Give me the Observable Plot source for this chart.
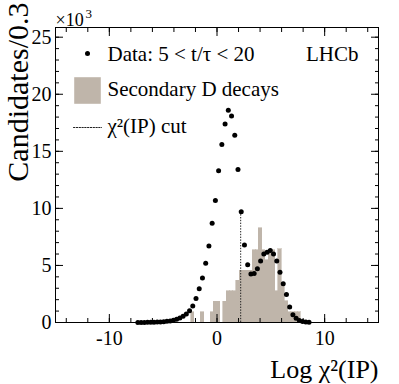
<!DOCTYPE html>
<html>
<head>
<meta charset="utf-8">
<script src="https://cdn.jsdelivr.net/npm/d3@7"></script>
<script src="https://cdn.jsdelivr.net/npm/@observablehq/plot@0.6"></script>
<style>
  html, body { margin: 0; padding: 0; background: #fff; }
</style>
</head>
<body>
<div id="chart"></div>
<script>
// ---- data (values in units of 10^3 candidates per 0.3) ----
const dataX = [-7.35, -7.05, -6.75, -6.45, -6.15, -5.85, -5.55, -5.25, -4.95, -4.65,
               -4.35, -4.05, -3.75, -3.45, -3.15, -2.85, -2.55, -2.25, -1.95, -1.65,
               -1.35, -1.05, -0.75, -0.45, -0.15, 0.15, 0.45, 0.75, 1.05, 1.35,
               1.65, 1.95, 2.25, 2.55, 2.85, 3.15, 3.45, 3.75, 4.05, 4.35,
               4.65, 4.95, 5.25, 5.55, 5.85, 6.15, 6.45, 6.75, 7.05, 7.35,
               7.65, 7.95, 8.25, 8.55];
const dataY = [0.01, 0.01, 0.01, 0.015, 0.02, 0.025, 0.035, 0.05, 0.07, 0.1,
               0.14, 0.2, 0.28, 0.4, 0.55, 0.75, 1.02, 1.45, 2.1, 2.95,
               3.9, 5.2, 6.7, 8.7, 10.7, 13.3, 15.6, 17.4, 18.6, 18.1,
               16.4, 13.4, 9.7, 6.8, 5.05, 4.25, 4.3, 4.7, 5.4, 6.0,
               6.15, 6.3, 6.0, 5.4, 4.4, 3.4, 2.45, 1.35, 0.67, 0.38,
               0.18, 0.09, 0.04, 0.02];

const mcX = [-2.25, -1.35, -0.45, -0.15, 0.15, 0.75, 1.05, 1.35, 1.65, 1.95,
             2.25, 2.55, 2.85, 3.15, 3.45, 3.75, 4.05, 4.35, 4.65, 4.95,
             5.25, 5.55, 5.85, 6.15, 6.45, 6.75, 7.05, 7.35, 7.65];
const mcY = [0.9, 0.9, 0.9, 1.82, 1.82, 1.82, 2.73, 2.73, 2.73, 3.64,
             4.55, 4.55, 4.55, 4.55, 6.35, 6.35, 8.25, 6.35, 5.45, 6.35,
             6.35, 2.73, 6.4, 3.5, 1.85, 0.9, 0.9, 0.9, 0.9];
const binWidth = 0.3;
const cutX = 2.2;
const cutRefBin = 2.25;

const xMajorTicks = [-10, 0, 10];
const xMinorTicks = [-14, -12, -10, -8, -6, -4, -2, 0, 2, 4, 6, 8, 10, 12, 14];
const yMajorTicks = [0, 5, 10, 15, 20, 25];
const yMinorTicks = [0,1,2,3,4,5,6,7,8,9,10,11,12,13,14,15,16,17,18,19,20,21,22,23,24,25];

const xTitle = "Log χ²(IP)";
const yTitle = "Candidates/0.3";
const yExpBase = "×10";
const yExpPower = "3";
const experimentLabel = "LHCb";
const legendLabels = ["Data: 5 < t/τ < 20", "Secondary D decays", "χ²(IP) cut"];

// ---- build tables ----
const points = dataX.map((x, i) => ({x, y: dataY[i]}));
const mc = mcX.map((c, i) => ({x1: c - binWidth / 2, x2: c + binWidth / 2, v: mcY[i]}));
const cutTop = dataY[dataX.indexOf(cutRefBin)];

const serif = "'Liberation Serif', 'Times New Roman', Times, serif";
const histColor = "#bfb5aa";
const noText = {fill: "none", label: null};

const lineShape = {draw(context, l) { context.moveTo(0, 0); context.lineTo(0, -l); }};

const chart = Plot.plot({
  width: 399,
  height: 384,
  marginLeft: 55,
  marginRight: 21,
  marginTop: 27,
  marginBottom: 62,
  style: {fontFamily: serif, background: "white", color: "black", overflow: "visible"},
  x: {domain: [-15, 15], axis: null},
  y: {domain: [0, 25.85], axis: null},
  marks: [
    Plot.rect(mc, {x1: "x1", x2: "x2", y1: 0, y2: "v", fill: histColor, stroke: histColor,
      strokeWidth: 0.6, inset: 0, shapeRendering: "crispEdges"}),
    Plot.ruleX([cutX], {y1: 0, y2: cutTop, stroke: "#222", strokeWidth: 1, strokeDasharray: "1.4,1.4"}),
    Plot.dot(points, {x: "x", y: "y", r: 2.5, fill: "black", stroke: "none"}),
    Plot.frame({stroke: "black", strokeWidth: 1}),

    // bottom axis
    Plot.axisX(xMajorTicks, {anchor: "bottom", tickSize: -8, ...noText}),
    Plot.axisX(xMinorTicks, {anchor: "bottom", tickSize: -4, ...noText}),
    Plot.axisX(xMajorTicks, {anchor: "bottom", tickSize: 0, tickPadding: 8, fontSize: 20,
      tickFormat: d => String(d), label: null}),
    // top axis
    Plot.axisX(xMajorTicks, {anchor: "top", tickSize: -8, ...noText}),
    Plot.axisX(xMinorTicks, {anchor: "top", tickSize: -4, ...noText}),
    // left axis
    Plot.axisY(yMajorTicks, {anchor: "left", tickSize: -8, ...noText}),
    Plot.axisY(yMinorTicks, {anchor: "left", tickSize: -4, ...noText}),
    Plot.axisY(yMajorTicks, {anchor: "left", tickSize: 0, tickPadding: 4, fontSize: 20,
      tickFormat: d => String(d), label: null}),
    // right axis
    Plot.axisY(yMajorTicks, {anchor: "right", tickSize: -8, ...noText}),
    Plot.axisY(yMinorTicks, {anchor: "right", tickSize: -4, ...noText}),

    // titles
    Plot.text([yTitle], {frameAnchor: "top-left", text: d => d, rotate: -90, textAnchor: "end",
      lineAnchor: "bottom", dx: -28, dy: -25, fontSize: 30, fill: "black"}),
    Plot.text([xTitle], {frameAnchor: "bottom-right", text: d => d, textAnchor: "end",
      lineAnchor: "bottom", dx: 0, dy: 55, fontSize: 26, fill: "black"}),
    Plot.text([yExpBase], {frameAnchor: "top-left", text: d => d, textAnchor: "start",
      lineAnchor: "bottom", dx: 0, dy: -2, fontSize: 18, fill: "black"}),
    Plot.text([yExpPower], {frameAnchor: "top-left", text: d => d, textAnchor: "start",
      lineAnchor: "bottom", dx: 30, dy: -10, fontSize: 13, fill: "black"}),
    Plot.text([experimentLabel], {frameAnchor: "top-right", text: d => d, textAnchor: "end",
      lineAnchor: "bottom", dx: -20, dy: 33, fontSize: 21, fill: "black"}),

    // legend
    Plot.dot([legendLabels[0]], {frameAnchor: "top-left", dx: 32, dy: 26, r: 2.5, fill: "black", stroke: "none"}),
    Plot.dot([legendLabels[1]], {frameAnchor: "top-left", dx: 32, dy: 63, r: 15, symbol: "square", fill: histColor, stroke: "none"}),
    Plot.vector([legendLabels[2]], {frameAnchor: "top-left", dx: 18, dy: 100, rotate: 90, length: 28,
      anchor: "start", shape: lineShape, stroke: "#222", strokeWidth: 1, strokeDasharray: "1.4,1.4"}),
    Plot.text([legendLabels[0]], {frameAnchor: "top-left", text: d => d, textAnchor: "start",
      lineAnchor: "bottom", dx: 52, dy: 33, fontSize: 21, fill: "black"}),
    Plot.text([legendLabels[1]], {frameAnchor: "top-left", text: d => d, textAnchor: "start",
      lineAnchor: "bottom", dx: 52, dy: 68, fontSize: 21, fill: "black"}),
    Plot.text([legendLabels[2]], {frameAnchor: "top-left", text: d => d, textAnchor: "start",
      lineAnchor: "bottom", dx: 52, dy: 105, fontSize: 21, fill: "black"})
  ]
});
document.getElementById("chart").appendChild(chart);
</script>
</body>
</html>
